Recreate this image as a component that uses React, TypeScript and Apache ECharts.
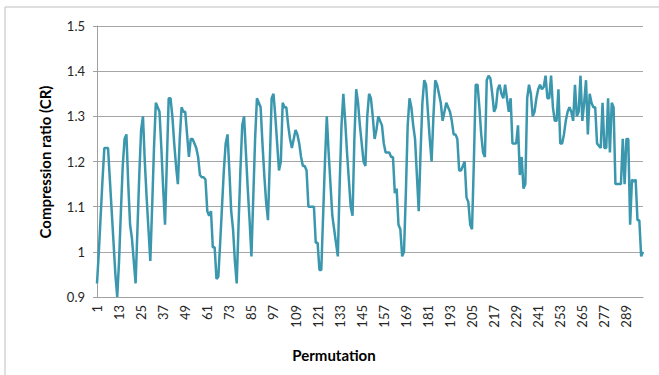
import React, { useEffect, useRef } from "react";
import * as echarts from "echarts";

const crValues: number[] = [
  0.93, 1.00, 1.08, 1.16, 1.23, 1.23, 1.23, 1.16, 1.09, 1.02,
  0.95, 0.90, 0.98, 1.09, 1.19, 1.25, 1.26, 1.15, 1.06, 1.03,
  0.98, 0.93, 1.05, 1.17, 1.27, 1.30, 1.20, 1.12, 1.05, 0.98,
  1.10, 1.23, 1.33, 1.32, 1.31, 1.23, 1.14, 1.06, 1.20, 1.34,
  1.34, 1.30, 1.24, 1.19, 1.15, 1.25, 1.32, 1.31, 1.31, 1.26,
  1.21, 1.25, 1.25, 1.24, 1.23, 1.21, 1.17, 1.165, 1.165, 1.16,
  1.09, 1.08, 1.09, 1.01, 1.01, 0.94, 0.945, 1.02, 1.10, 1.18,
  1.24, 1.26, 1.18, 1.09, 1.05, 0.98, 0.93, 1.06, 1.18, 1.28,
  1.30, 1.22, 1.14, 1.07, 0.99, 1.12, 1.25, 1.34, 1.33, 1.32,
  1.24, 1.17, 1.11, 1.07, 1.20, 1.34, 1.35, 1.30, 1.24, 1.18,
  1.20, 1.33, 1.32, 1.32, 1.28, 1.25, 1.23, 1.25, 1.27, 1.26,
  1.24, 1.21, 1.19, 1.19, 1.18, 1.10, 1.10, 1.10, 1.10, 1.02,
  1.02, 0.96, 0.96, 1.08, 1.20, 1.30, 1.22, 1.15, 1.08, 1.05,
  1.02, 0.99, 1.15, 1.28, 1.35, 1.29, 1.22, 1.16, 1.10, 1.08,
  1.25, 1.36, 1.33, 1.28, 1.24, 1.20, 1.19, 1.30, 1.35, 1.34,
  1.30, 1.25, 1.27, 1.30, 1.29, 1.28, 1.24, 1.22, 1.22, 1.22,
  1.21, 1.21, 1.13, 1.14, 1.06, 1.05, 0.99, 1.00, 1.13, 1.28,
  1.34, 1.32, 1.28, 1.25, 1.17, 1.09, 1.22, 1.33, 1.38, 1.37,
  1.31, 1.25, 1.20, 1.30, 1.38, 1.37, 1.35, 1.33, 1.29, 1.31,
  1.33, 1.32, 1.31, 1.29, 1.26, 1.26, 1.25, 1.18, 1.18, 1.19,
  1.20, 1.12, 1.11, 1.06, 1.05, 1.20, 1.37, 1.37, 1.32, 1.26,
  1.22, 1.21, 1.38, 1.39, 1.384, 1.35, 1.31, 1.32, 1.36, 1.37,
  1.35, 1.34, 1.37, 1.34, 1.31, 1.34, 1.24, 1.24, 1.24, 1.28,
  1.17, 1.21, 1.14, 1.15, 1.34, 1.37, 1.35, 1.30, 1.31, 1.34,
  1.36, 1.37, 1.36, 1.365, 1.39, 1.34, 1.34, 1.39, 1.32, 1.29,
  1.29, 1.36, 1.24, 1.24, 1.26, 1.29, 1.31, 1.32, 1.31, 1.29,
  1.37, 1.30, 1.31, 1.39, 1.29, 1.33, 1.38, 1.26, 1.35, 1.33,
  1.32, 1.32, 1.24, 1.235, 1.23, 1.33, 1.23, 1.23, 1.34, 1.22,
  1.33, 1.32, 1.15, 1.15, 1.15, 1.15, 1.25, 1.15, 1.25, 1.25,
  1.06, 1.16, 1.155, 1.16, 1.07, 1.07, 0.99, 1.00,
];

const permutations: string[] = crValues.map((_, i) => String(i + 1));

const yMin = 0.9;
const yMax = 1.5;
const yStep = 0.1;

const xTitle = "Permutation";
const yTitle = "Compression ratio (CR)";

const FONT = "Lato, 'Open Sans', sans-serif";

export default function App() {
  const ref = useRef<HTMLDivElement>(null);

  useEffect(() => {
    if (!ref.current) return;
    const chart = echarts.init(ref.current, undefined, { renderer: "svg" });
    chart.setOption({
      animation: false,
      backgroundColor: "#ffffff",
      grid: { left: 97, right: 16, top: 26, bottom: 78, containLabel: false },
      graphic: [
        {
          type: "rect",
          shape: { x: 5, y: 7, width: 700, height: 400 },
          style: { fill: "none", stroke: "#BFBFBF", lineWidth: 1 },
          silent: true,
        },
        {
          type: "text",
          x: 334,
          y: 355,
          style: {
            text: xTitle,
            font: `bold 15px ${FONT}`,
            fill: "#000000",
            align: "center",
            verticalAlign: "middle",
          },
        },
        {
          type: "text",
          x: 45,
          y: 162,
          rotation: Math.PI / 2,
          style: {
            text: yTitle,
            font: `bold 15px ${FONT}`,
            fill: "#000000",
            align: "center",
            verticalAlign: "middle",
          },
        },
      ],
      xAxis: {
        type: "category",
        data: permutations,
        boundaryGap: false,
        axisLine: { show: true, lineStyle: { color: "#A0A0A0", width: 1 } },
        axisTick: { show: false },
        axisLabel: {
          interval: 11,
          rotate: 90,
          margin: 8,
          fontFamily: FONT,
          fontSize: 13,
          color: "#262626",
        },
        splitLine: { show: false },
      },
      yAxis: {
        type: "value",
        min: yMin,
        max: yMax,
        interval: yStep,
        axisLine: { show: true, lineStyle: { color: "#A0A0A0", width: 1 } },
        axisTick: { show: true, length: 4, lineStyle: { color: "#A0A0A0" } },
        axisLabel: {
          margin: 12,
          fontFamily: FONT,
          fontSize: 13,
          color: "#262626",
          formatter: (v: number) => String(parseFloat(v.toFixed(2))),
        },
        splitLine: { show: true, lineStyle: { color: "#A6A6A6", width: 1.2 } },
      },
      series: [
        {
          type: "line",
          data: crValues,
          showSymbol: false,
          symbol: "none",
          lineStyle: { color: "#3A97AD", width: 2.5 },
          itemStyle: { color: "#3A97AD" },
        },
      ],
    });
    return () => chart.dispose();
  }, []);

  return (
    <div
      ref={ref}
      style={{ position: "absolute", left: 0, top: 0, width: 659, height: 375 }}
    />
  );
}
